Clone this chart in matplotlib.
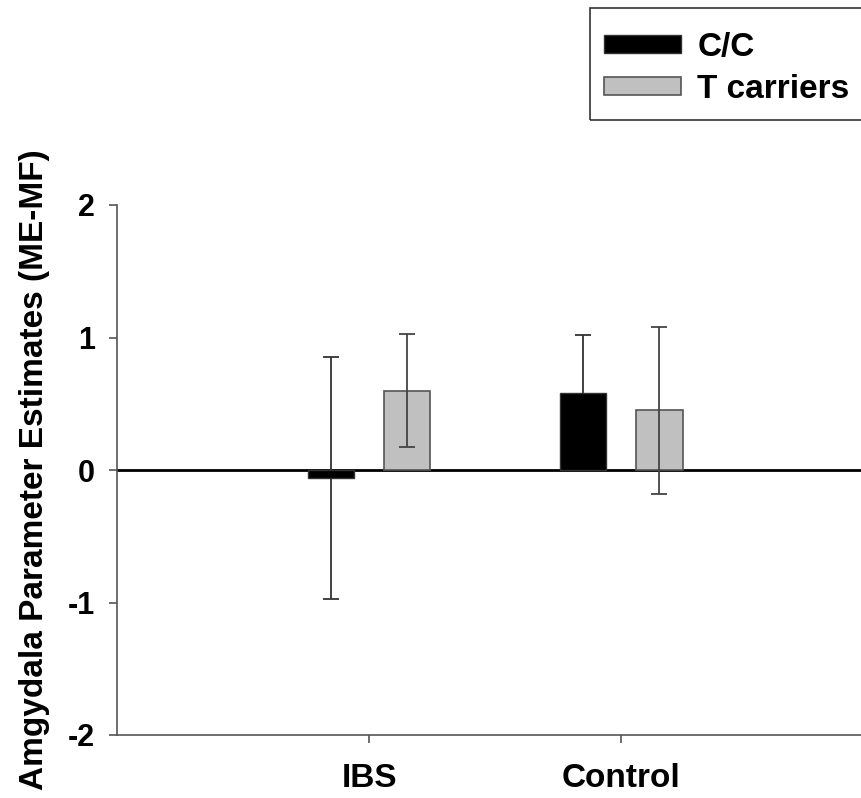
import numpy as np
import matplotlib
matplotlib.use("Agg")
import matplotlib.pyplot as plt
from matplotlib.patches import Rectangle

# Dati
groups = ["IBS", "Control"]
cc_means = [-0.06, 0.58]
cc_err = [0.91, 0.44]
t_means = [0.60, 0.45]
t_err = [0.43, 0.63]
series_names = ["C/C", "T carriers"]
yticks = [-2, -1, 0, 1, 2]

plt.rcParams['font.family'] = ['Liberation Sans', 'DejaVu Sans']
plt.rcParams['font.weight'] = 'bold'

W, H = 861, 798
fig = plt.figure(figsize=(W / 100, H / 100), dpi=100)
ax = fig.add_axes([117 / W, 1 - 735 / H, 1 - 117 / W, (735 - 205) / H])

x = np.arange(len(groups))
width = 0.183
offset = 0.151
gray = '#555555'

ax.axhline(0, color='black', lw=2, zorder=1)

# barre + barre d'errore (quelle C/C stanno sotto le barre nere)
b1 = ax.bar(x - offset, cc_means, width, color='black', edgecolor='#333333', lw=1, zorder=2, label=series_names[0])
b2 = ax.bar(x + offset, t_means, width, color='#c0c0c0', edgecolor='#555555', lw=1.2, zorder=2, label=series_names[1])
ax.errorbar(x - offset, cc_means, yerr=cc_err, fmt='none', ecolor='#333333', elinewidth=1.3, capsize=6, capthick=1.3, zorder=1.5)
ax.errorbar(x + offset, t_means, yerr=t_err, fmt='none', ecolor='#444444', elinewidth=1.3, capsize=6, capthick=1.3, zorder=3)

ax.set_xlim(-1, 1.95)
ax.set_ylim(-2, 2)
ax.set_xticks(x)
ax.set_xticklabels(groups, fontsize=24, fontweight='bold')
ax.set_yticks(yticks)
ax.set_yticklabels([str(t) for t in yticks], fontsize=22, fontweight='bold')

for side in ['top', 'right']:
    ax.spines[side].set_visible(False)
for side in ['left', 'bottom']:
    ax.spines[side].set_color(gray)
    ax.spines[side].set_linewidth(1.2)
ax.tick_params(axis='y', direction='out', length=6, width=1.2, color=gray, pad=10)
ax.tick_params(axis='x', direction='out', length=6, width=1.2, color=gray, pad=14)

ax.set_ylabel("Amgydala Parameter Estimates (ME-MF)", fontsize=24, fontweight='bold')
ax.yaxis.set_label_coords(-0.090, 0.5)

# Legenda senza cornice, cornice disegnata a mano (esce dal bordo destro)
leg = fig.legend(handles=[b1, b2], loc='upper left', bbox_to_anchor=(604 / W, 1 - 32 / H),
                 fontsize=24, frameon=False, handlelength=2.3, handleheight=0.45,
                 handletextpad=0.5, borderpad=0, labelspacing=0.32, borderaxespad=0)
for t in leg.get_texts():
    t.set_fontweight('bold')
fig.patches.append(Rectangle((590 / W, 1 - 120 / H), 300 / W, 112 / H, transform=fig.transFigure,
                             fill=False, edgecolor='#333333', lw=1.2, clip_on=False))

fig.savefig("out.png", dpi=100)
